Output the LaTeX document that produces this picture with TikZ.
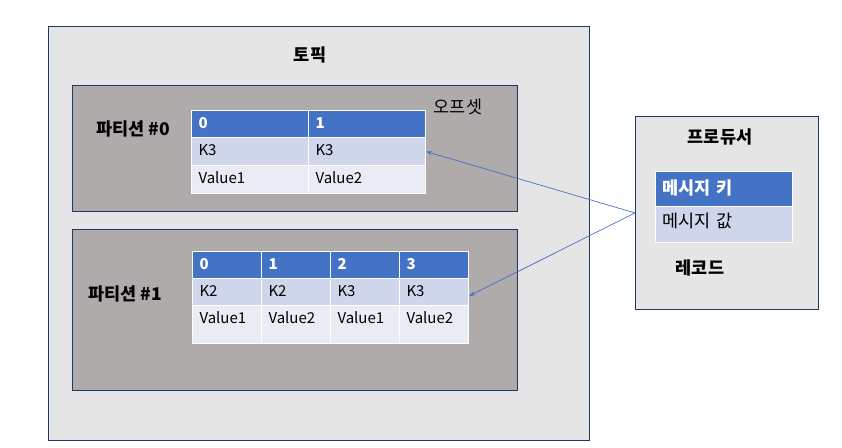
\documentclass[tikz,border=0pt]{standalone}
\usepackage{fontspec}
\setmainfont{Noto Sans CJK KR}
\usetikzlibrary{arrows.meta}
\definecolor{navy}{HTML}{1F3864}
\definecolor{hdr}{HTML}{4472C4}
\definecolor{rowa}{HTML}{CFD5EA}
\definecolor{rowb}{HTML}{E9EBF5}
\definecolor{partfill}{HTML}{AFABAB}
\definecolor{topicfill}{HTML}{E5E5E5}
\def\kr{\fontsize{17.5}{20}\selectfont}

\begin{document}
\fontsize{15}{18}\selectfont
\begin{tikzpicture}[x=1pt, y=-1pt,
    box/.style={draw=navy, line width=0.9pt, anchor=north west, inner sep=0pt},
    cell/.style={draw=white, line width=1pt, anchor=north west, inner xsep=7pt, inner ysep=0pt,
                 text height=11pt, text depth=3pt, align=left},
    head/.style={cell, fill=hdr, text=white, font=\bfseries},
    title/.style={font=\kr\bfseries},
    link/.style={draw=hdr, line width=0.7pt, -{Stealth[length=6pt,width=4pt]}},
    ]
  \useasboundingbox (0,0) rectangle (842,447);

  % boxes
  \node[box, fill=topicfill, minimum width=541pt, minimum height=414pt] (topic) at (48,26) {};
  \node[box, fill=partfill, minimum width=445pt, minimum height=126pt] (part0) at (72,85) {};
  \node[box, fill=partfill, minimum width=445pt, minimum height=161pt] (part1) at (72,229) {};
  \node[box, fill=topicfill, minimum width=183pt, minimum height=193pt] (prod) at (635,116) {};

  \node[title] (topicname) at (310,55) {토픽};
  \node[title] (part0name) at (133,129) {파티션 \#0};
  \node[font=\kr] (offset) at (458,107) {오프셋};
  \node[title] (part1name) at (125,294) {파티션 \#1};
  \node[title] (prodname) at (720,137) {프로듀서};
  \node[title] (recname) at (700,268) {레코드};

  % partition 0
  \node[head, text width=103pt, minimum height=27pt] (t0h0) at (191,110) {0};
  \node[head, text width=103pt, minimum height=27pt] (t0h1) at (308,110) {1};
  \node[cell, fill=rowa, text width=103pt, minimum height=28pt] (t0k0) at (191,137) {K3};
  \node[cell, fill=rowa, text width=103pt, minimum height=28pt] (t0k1) at (308,137) {K3};
  \node[cell, fill=rowb, text width=103pt, minimum height=28pt] (t0v0) at (191,165) {Value1};
  \node[cell, fill=rowb, text width=103pt, minimum height=28pt] (t0v1) at (308,165) {Value2};

  % partition 1
  \node[head, text width=55pt, minimum height=27pt] (t1h0) at (192,251) {0};
  \node[head, text width=55pt, minimum height=27pt] (t1h1) at (261,251) {1};
  \node[head, text width=55pt, minimum height=27pt] (t1h2) at (330,251) {2};
  \node[head, text width=55pt, minimum height=27pt] (t1h3) at (399,251) {3};
  \node[cell, fill=rowa, text width=55pt, minimum height=27pt] (t1k0) at (192,278) {K2};
  \node[cell, fill=rowa, text width=55pt, minimum height=27pt] (t1k1) at (261,278) {K2};
  \node[cell, fill=rowa, text width=55pt, minimum height=27pt] (t1k2) at (330,278) {K3};
  \node[cell, fill=rowa, text width=55pt, minimum height=27pt] (t1k3) at (399,278) {K3};
  \node[cell, fill=rowb, text width=55pt, minimum height=38pt, text depth=13pt] (t1v0) at (192,305) {Value1};
  \node[cell, fill=rowb, text width=55pt, minimum height=38pt, text depth=13pt] (t1v1) at (261,305) {Value2};
  \node[cell, fill=rowb, text width=55pt, minimum height=38pt, text depth=13pt] (t1v2) at (330,305) {Value1};
  \node[cell, fill=rowb, text width=55pt, minimum height=38pt, text depth=13pt] (t1v3) at (399,305) {Value2};

  % record
  \node[head, font=\kr\bfseries, text height=14pt, text width=123pt, minimum height=35pt] (reckey) at (655,171) {메시지 키};
  \node[cell, fill=rowa, font=\kr, text height=14pt, text width=123pt, minimum height=36pt, text depth=9pt] (recval) at (655,206) {메시지 값};

  \draw[link] (prod.west) -- (t0k1.east);
  \draw[link] (prod.west) -- ([yshift=-4pt]t1k3.east);
\end{tikzpicture}
\end{document}
